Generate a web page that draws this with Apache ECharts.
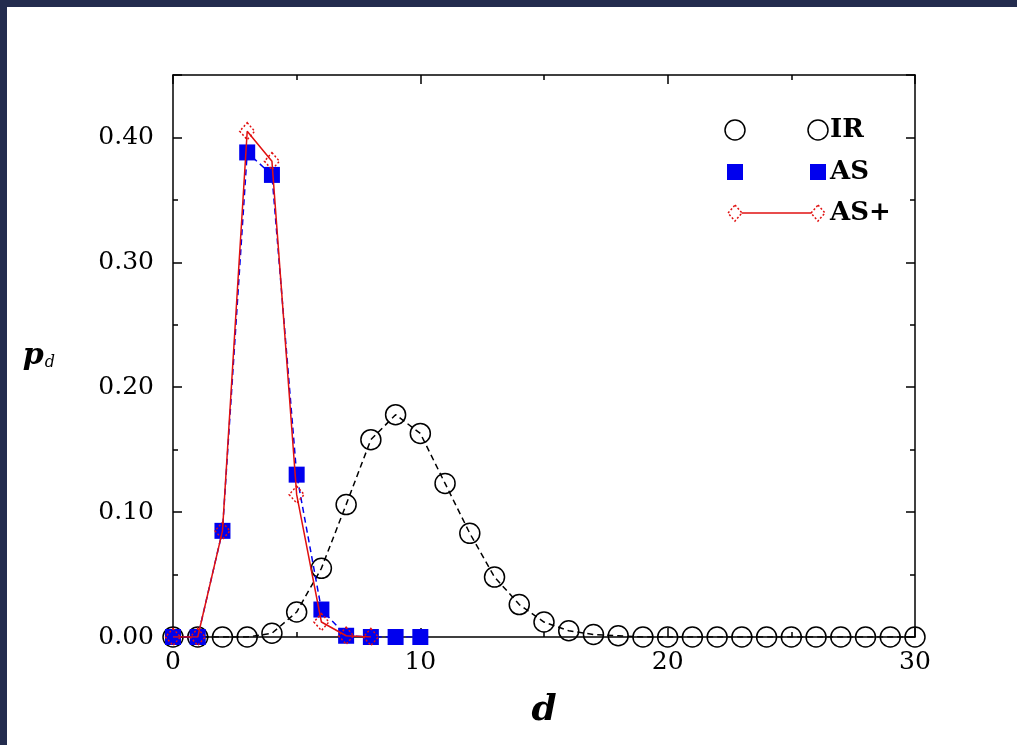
<!DOCTYPE html>
<html>
<head>
<meta charset="utf-8">
<script src="https://cdn.jsdelivr.net/npm/echarts@6/dist/echarts.min.js"></script>
<style>
  html, body { margin: 0; padding: 0; background: #232c4e; width: 1017px; height: 745px; overflow: hidden; }
  #chart { position: absolute; left: 7px; top: 7px; width: 1010px; height: 738px; background: #fff; }
</style>
</head>
<body>
<div id="chart"></div>
<script>
// distance d and probability p_d for each model
const irD = [0, 1, 2, 3, 4, 5, 6, 7, 8, 9, 10, 11, 12, 13, 14, 15, 16, 17, 18, 19, 20, 21, 22, 23, 24, 25, 26, 27, 28, 29, 30]
const irP = [0, 0, 0, 0, 0.003, 0.02, 0.055, 0.106, 0.158, 0.178, 0.163, 0.123, 0.083, 0.048, 0.026, 0.012, 0.005, 0.002, 0.001, 0, 0, 0, 0, 0, 0, 0, 0, 0, 0, 0, 0]
const asD = [0, 1, 2, 3, 4, 5, 6, 7, 8, 9, 10]
const asP = [0, 0, 0.085, 0.388, 0.37, 0.13, 0.022, 0.001, 0, 0, 0]
const asPlusD = [0, 1, 2, 3, 4, 5, 6, 7, 8]
const asPlusP = [0, 0, 0.085, 0.405, 0.381, 0.114, 0.012, 0.001, 0]
const xTicks = [0, 10, 20, 30]
const yTicks = [0, 0.1, 0.2, 0.3, 0.4]

const serif = 'DejaVu Serif'
const pairs = (xs, ys) => xs.map((x, i) => [x, ys[i]])

const chart = echarts.init(document.getElementById('chart'))

const baseX = {
  type: 'value',
  min: xTicks[0],
  max: xTicks[xTicks.length - 1],
  interval: xTicks[1] - xTicks[0],
  axisLine: { show: true, onZero: false, lineStyle: { color: '#000', width: 1.5 } },
  axisTick: { show: true, inside: true, length: 9, lineStyle: { color: '#000', width: 1.5 } },
  minorTick: { show: true, splitNumber: 2, length: 5, lineStyle: { color: '#000', width: 1.5 } },
  splitLine: { show: false }
}
const baseY = {
  type: 'value',
  min: 0,
  max: 0.45,
  interval: yTicks[1] - yTicks[0],
  axisLine: { show: true, onZero: false, lineStyle: { color: '#000', width: 1.5 } },
  axisTick: { show: true, inside: true, length: 9, lineStyle: { color: '#000', width: 1.5 } },
  minorTick: { show: true, splitNumber: 2, length: 5, lineStyle: { color: '#000', width: 1.5 } },
  splitLine: { show: false }
}

const option = {
  animation: false,
  backgroundColor: '#fff',
  grid: { left: 166, top: 68, width: 742, height: 562, containLabel: false },
  xAxis: [
    {
      ...baseX,
      position: 'bottom',
      name: 'd',
      nameLocation: 'middle',
      nameGap: 56,
      nameTextStyle: { fontFamily: serif, fontStyle: 'italic', fontWeight: 'bold', fontSize: 36, color: '#000' },
      axisLabel: { margin: 13, fontFamily: serif, fontSize: 25, color: '#000' }
    },
    { ...baseX, position: 'top', axisLabel: { show: false } }
  ],
  yAxis: [
    {
      ...baseY,
      position: 'left',
      name: '{p|p}{d|d}',
      nameLocation: 'middle',
      nameRotate: 0,
      nameGap: 118,
      nameTextStyle: {
        rich: {
          p: { fontFamily: serif, fontStyle: 'italic', fontWeight: 'bold', fontSize: 30, color: '#000' },
          d: { fontFamily: serif, fontStyle: 'italic', fontSize: 16, color: '#000', padding: [14, 0, 0, 1] }
        }
      },
      axisLabel: {
        margin: 19,
        fontFamily: serif,
        fontSize: 25,
        color: '#000',
        showMaxLabel: false,
        formatter: (v) => v.toFixed(2)
      }
    },
    { ...baseY, position: 'right', axisLabel: { show: false } }
  ],
  series: [
    {
      name: 'IR',
      type: 'line',
      data: pairs(irD, irP),
      symbol: 'circle',
      symbolSize: 20,
      itemStyle: { color: 'rgba(0,0,0,0)', borderColor: '#000', borderWidth: 1.5 },
      lineStyle: { color: '#000', width: 1.5, type: [6, 4] },
      z: 2
    },
    {
      name: 'AS',
      type: 'line',
      data: pairs(asD, asP),
      symbol: 'rect',
      symbolSize: 16,
      itemStyle: { color: '#0000ee' },
      lineStyle: { color: '#0000ee', width: 1.5, type: [6, 4] },
      z: 3
    },
    {
      name: 'AS+',
      type: 'line',
      data: pairs(asPlusD, asPlusP),
      symbol: 'diamond',
      symbolSize: [15, 17],
      itemStyle: { color: 'rgba(0,0,0,0)', borderColor: '#e01010', borderWidth: 1.5, borderType: [2, 2] },
      lineStyle: { color: '#e01010', width: 1.5 },
      z: 4
    }
  ],
  graphic: [
    // legend, drawn in the same style as the plot marks
    { type: 'circle', shape: { cx: 728, cy: 123, r: 10 }, style: { fill: 'none', stroke: '#000', lineWidth: 1.5 } },
    { type: 'circle', shape: { cx: 811, cy: 123, r: 10 }, style: { fill: 'none', stroke: '#000', lineWidth: 1.5 } },
    { type: 'text', x: 823, y: 123, style: { text: 'IR', fontFamily: serif, fontWeight: 'bold', fontSize: 26, fill: '#000', verticalAlign: 'middle' } },
    { type: 'rect', shape: { x: 720, y: 157, width: 16, height: 16 }, style: { fill: '#0000ee' } },
    { type: 'rect', shape: { x: 803, y: 157, width: 16, height: 16 }, style: { fill: '#0000ee' } },
    { type: 'text', x: 823, y: 165, style: { text: 'AS', fontFamily: serif, fontWeight: 'bold', fontSize: 26, fill: '#000', verticalAlign: 'middle' } },
    { type: 'line', shape: { x1: 728, y1: 206, x2: 811, y2: 206 }, style: { stroke: '#e01010', lineWidth: 1.5 } },
    { type: 'polygon', shape: { points: [[728, 198], [735, 206], [728, 214], [721, 206]] }, style: { fill: '#fff', stroke: '#e01010', lineWidth: 1.5, lineDash: [2, 2] } },
    { type: 'polygon', shape: { points: [[811, 198], [818, 206], [811, 214], [804, 206]] }, style: { fill: '#fff', stroke: '#e01010', lineWidth: 1.5, lineDash: [2, 2] } },
    { type: 'text', x: 823, y: 206, style: { text: 'AS+', fontFamily: serif, fontWeight: 'bold', fontSize: 26, fill: '#000', verticalAlign: 'middle' } }
  ]
}

chart.setOption(option)
</script>
</body>
</html>
